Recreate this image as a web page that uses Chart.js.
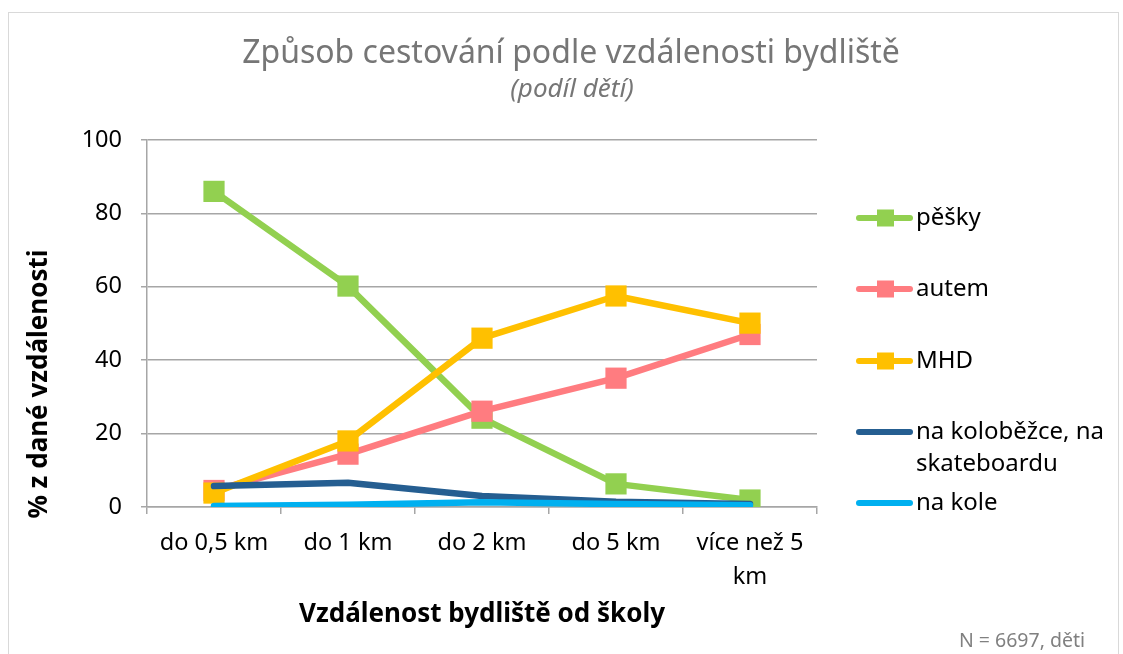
<!DOCTYPE html>
<html>
<head>
<meta charset="utf-8">
<script src="https://cdn.jsdelivr.net/npm/chart.js@4"></script>
<style>
  html, body { margin: 0; padding: 0; background: #fff; }
</style>
</head>
<body>
<canvas id="chart" width="1123" height="654"></canvas>
<script>
// Data
const categories = ["do 0,5 km", "do 1 km", "do 2 km", "do 5 km", ["více než 5", "km"]]
const seriesNames = ["pěšky", "autem", "MHD", "na koloběžce, na skateboardu", "na kole"]
const peskyValues = [86, 60.2, 24.2, 6.3, 1.9]
const autemValues = [4.5, 14.4, 26.1, 35.1, 47]
const mhdValues = [3.8, 18, 46, 57.5, 50.1]
const kolobezkaValues = [5.7, 6.6, 3, 1.4, 0.8]
const koloValues = [0.3, 0.6, 1.3, 0.8, 0.5]
const yTicks = [0, 20, 40, 60, 80, 100]

const FONT = "'Noto Sans', sans-serif"

const colors = ["#92D050", "#FF7C80", "#FFC000", "#255E91", "#00B0F0"]
const allValues = [peskyValues, autemValues, mhdValues, kolobezkaValues, koloValues]
const withMarkers = [true, true, true, false, false]

const datasets = allValues.map((vals, i) => ({
  label: seriesNames[i],
  data: vals,
  borderColor: colors[i],
  backgroundColor: colors[i],
  borderWidth: 6.5,
  borderCapStyle: "round",
  borderJoinStyle: "round",
  pointStyle: "rect",
  pointRadius: withMarkers[i] ? 15 : 0,
  pointBorderWidth: 0,
  pointBackgroundColor: colors[i],
  tension: 0,
  order: 5 - i, // later series on top, like Excel
}))

// titulky, legenda a ramecek kreslime sami
const decorations = {
  id: "decorations",
  beforeDraw(chart) {
    const { ctx, width, height } = chart
    ctx.save()
    ctx.fillStyle = "#fff"
    ctx.fillRect(0, 0, width, height)
    ctx.strokeStyle = "#d9d9d9"
    ctx.lineWidth = 1
    ctx.strokeRect(8.5, 12.5, 1110, 660)
    ctx.restore()
  },
  afterDraw(chart) {
    const { ctx } = chart
    ctx.save()
    ctx.textBaseline = "middle"
    ctx.textAlign = "center"
    ctx.fillStyle = "#767676"
    ctx.font = `32px ${FONT}`
    ctx.fillText("Způsob cestování podle vzdálenosti bydliště", 571, 54)
    ctx.font = `italic 26px ${FONT}`
    ctx.fillText("(podíl dětí)", 572, 90)

    ctx.font = `19.5px ${FONT}`
    ctx.fillStyle = "#808080"
    ctx.textAlign = "right"
    ctx.fillText("N = 6697, děti", 1085, 641)

    // y title
    ctx.save()
    ctx.translate(40, 384)
    ctx.rotate(-Math.PI / 2)
    ctx.textAlign = "center"
    ctx.fillStyle = "#000"
    ctx.font = `bold 26px ${FONT}`
    ctx.fillText("% z dané vzdálenosti", 0, 0)
    ctx.restore()

    // legend
    const rows = [[218], [289], [361], [432, 464], [503]]
    const labelLines = [["pěšky"], ["autem"], ["MHD"], ["na koloběžce, na", "skateboardu"], ["na kole"]]
    ctx.textAlign = "left"
    ctx.font = `24px ${FONT}`
    chart.data.datasets.forEach((ds, i) => {
      const y = rows[i][0]
      ctx.strokeStyle = ds.borderColor
      ctx.lineWidth = 6
      ctx.lineCap = "round"
      ctx.beginPath()
      ctx.moveTo(859, y)
      ctx.lineTo(910, y)
      ctx.stroke()
      if (ds.pointRadius > 0) {
        ctx.fillStyle = ds.borderColor
        ctx.fillRect(877, y - 8.5, 17, 17)
      }
      ctx.fillStyle = "#000"
      labelLines[i].forEach((t, k) => ctx.fillText(t, 916, rows[i][k]))
    })
    ctx.restore()
  },
}

new Chart(document.getElementById("chart"), {
  type: "line",
  data: { labels: categories, datasets },
  plugins: [decorations],
  options: {
    responsive: false,
    animation: false,
    devicePixelRatio: 1,
    layout: { padding: { left: 28, right: 306, top: 140, bottom: 0 } },
    plugins: {
      legend: { display: false },
      tooltip: { enabled: false },
    },
    scales: {
      x: {
        offset: true,
        grid: {
          offset: true,
          drawOnChartArea: false,
          drawTicks: true,
          tickLength: 7,
          color: "#a6a6a6",
          lineWidth: 1.5,
        },
        border: { color: "#a6a6a6", width: 1.5 },
        ticks: {
          color: "#000",
          font: { family: FONT, size: 23.5, lineHeight: 1.45 },
          padding: 12,
          maxRotation: 0,
          autoSkip: false,
        },
        title: {
          display: true,
          text: "Vzdálenost bydliště od školy",
          color: "#000",
          font: { family: FONT, size: 26, weight: "bold" },
          padding: { top: 0, bottom: 24 },
        },
        afterFit(scale) { scale.height = 147 },
      },
      y: {
        min: 0,
        max: 100,
        afterBuildTicks(scale) { scale.ticks = yTicks.map((v) => ({ value: v })) },
        grid: { color: "#a6a6a6", lineWidth: 1.5, tickLength: 6 },
        border: { color: "#a6a6a6", width: 1.5 },
        ticks: {
          color: "#000",
          font: { family: FONT, size: 23.5 },
          padding: 19,
        },
        afterFit(scale) { scale.width = 119 },
      },
    },
  },
})
</script>
</body>
</html>
